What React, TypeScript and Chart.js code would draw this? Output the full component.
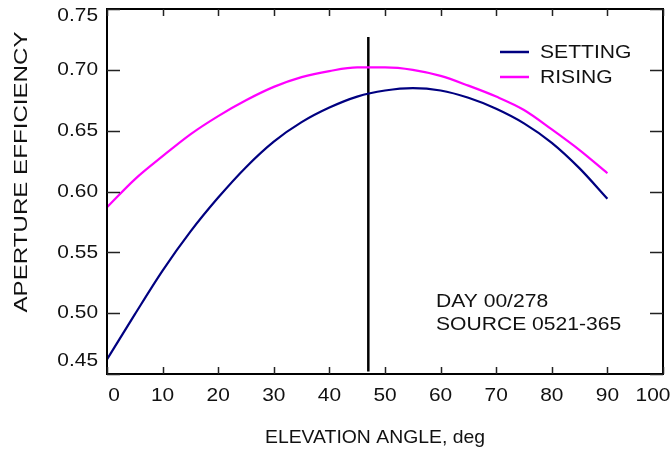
import React, { useEffect, useRef } from "react";
import { Chart, registerables } from "chart.js";

Chart.register(...registerables);

const elevation = [0, 5, 10, 15, 20, 25, 30, 35, 40, 45, 50, 55, 60, 65, 70, 75, 80, 85, 90];
const setting = [0.462, 0.499, 0.535, 0.567, 0.595, 0.62, 0.641, 0.657, 0.669, 0.678, 0.683, 0.685, 0.683, 0.677, 0.668, 0.656, 0.64, 0.619, 0.594];
const rising = [0.587, 0.61, 0.629, 0.647, 0.662, 0.675, 0.686, 0.694, 0.699, 0.702, 0.702, 0.7, 0.695, 0.687, 0.678, 0.667, 0.651, 0.634, 0.615];
const markerX = 47;
const markerY = [0.452, 0.727];
const xTicks = [0, 10, 20, 30, 40, 50, 60, 70, 80, 90, 100];
const yTicks = [0.45, 0.5, 0.55, 0.6, 0.65, 0.7, 0.75];
const seriesNames = ["SETTING", "RISING"];
const seriesColors = ["#000080", "#ff00ff"];
const annotation = ["DAY 00/278", "SOURCE 0521-365"];
const xTitle = "ELEVATION ANGLE, deg";
const yTitle = "APERTURE EFFICIENCY";

const FONT = '"Liberation Sans", Arial, Helvetica, sans-serif';

function drawText(
  ctx: CanvasRenderingContext2D,
  text: string,
  x: number,
  y: number,
  align: CanvasTextAlign,
  sx: number,
  rot = 0
) {
  ctx.save();
  ctx.translate(x, y);
  if (rot) ctx.rotate(rot);
  ctx.scale(sx, 1);
  ctx.textAlign = align;
  ctx.textBaseline = "middle";
  ctx.fillText(text, 0, 0);
  ctx.restore();
}

const decorPlugin = {
  id: "decor",
  afterDraw(chart: any) {
    const ctx = chart.ctx as CanvasRenderingContext2D;
    const { left, right, top, bottom } = chart.chartArea;
    const xs = chart.scales.x;
    const ys = chart.scales.y;
    ctx.save();
    ctx.strokeStyle = "#000";
    ctx.lineWidth = 2;
    ctx.strokeRect(left, top, right - left, bottom - top);
    ctx.lineWidth = 1.5;
    ctx.strokeStyle = "#222";
    const tl = 7;
    xTicks.forEach((v) => {
      const px = Math.round(xs.getPixelForValue(v)) + 0.5;
      ctx.beginPath();
      ctx.moveTo(px, bottom);
      ctx.lineTo(px, bottom - tl);
      ctx.moveTo(px, top);
      ctx.lineTo(px, top + tl);
      ctx.stroke();
    });
    yTicks.forEach((v) => {
      const py = Math.round(ys.getPixelForValue(v)) + 0.5;
      ctx.beginPath();
      ctx.moveTo(left, py);
      ctx.lineTo(left + 13, py);
      ctx.moveTo(right, py);
      ctx.lineTo(right - 13, py);
      ctx.stroke();
    });
    ctx.fillStyle = "#111";
    ctx.font = `19px ${FONT}`;
    xTicks.forEach((v, i) => {
      let px = xs.getPixelForValue(v);
      if (i === 0) px += 7;
      if (i === xTicks.length - 1) px -= 10;
      drawText(ctx, String(v), px, bottom + 22, "center", 1.1);
    });
    yTicks.forEach((v, i) => {
      let py = ys.getPixelForValue(v);
      if (i === 0) py -= 13;
      if (i === yTicks.length - 1) py += 7;
      drawText(ctx, v.toFixed(2), left - 9, py, "right", 1.1);
    });
    drawText(ctx, xTitle, 375, bottom + 64, "center", 1.02);
    drawText(ctx, yTitle, 22, 172, "center", 1.27, -Math.PI / 2);
    seriesNames.forEach((name, i) => {
      const y = 52 + i * 25;
      ctx.strokeStyle = seriesColors[i];
      ctx.lineWidth = 2.5;
      ctx.beginPath();
      ctx.moveTo(500, y);
      ctx.lineTo(529, y);
      ctx.stroke();
      drawText(ctx, name, 540, y + 1, "left", 1.11);
    });
    annotation.forEach((t, i) => {
      drawText(ctx, t, 436, 302 + i * 23, "left", 1.11);
    });
    ctx.restore();
  },
};

export default function App() {
  const ref = useRef<HTMLCanvasElement | null>(null);
  useEffect(() => {
    if (!ref.current) return;
    const chart = new Chart(ref.current, {
      type: "line",
      data: {
        datasets: [
          {
            label: seriesNames[0],
            data: elevation.map((x, i) => ({ x, y: setting[i] })),
            borderColor: seriesColors[0],
            borderWidth: 2.2,
            pointRadius: 0,
            cubicInterpolationMode: "monotone",
          },
          {
            label: seriesNames[1],
            data: elevation.map((x, i) => ({ x, y: rising[i] })),
            borderColor: seriesColors[1],
            borderWidth: 2.2,
            pointRadius: 0,
            cubicInterpolationMode: "monotone",
          },
          {
            label: "marker",
            data: markerY.map((y) => ({ x: markerX, y })),
            borderColor: "#000",
            borderWidth: 2.5,
            pointRadius: 0,
          },
        ],
      },
      options: {
        responsive: false,
        animation: false,
        devicePixelRatio: 1,
        layout: { padding: { top: 9, right: 7, left: 0, bottom: 0 } },
        plugins: { legend: { display: false }, tooltip: { enabled: false } },
        scales: {
          x: {
            type: "linear",
            min: 0,
            max: 100,
            grid: { display: false },
            border: { display: false },
            ticks: { display: false },
            afterFit: (s: any) => {
              s.height = 79;
            },
          },
          y: {
            type: "linear",
            min: 0.45,
            max: 0.75,
            grid: { display: false },
            border: { display: false },
            ticks: { display: false },
            afterFit: (s: any) => {
              s.width = 107;
            },
          },
        },
      },
      plugins: [decorPlugin],
    } as any);
    return () => chart.destroy();
  }, []);
  return (
    <div style={{ position: "fixed", left: 0, top: 0, width: 670, height: 453, background: "#fff" }}>
      <canvas ref={ref} width={670} height={453} />
    </div>
  );
}
